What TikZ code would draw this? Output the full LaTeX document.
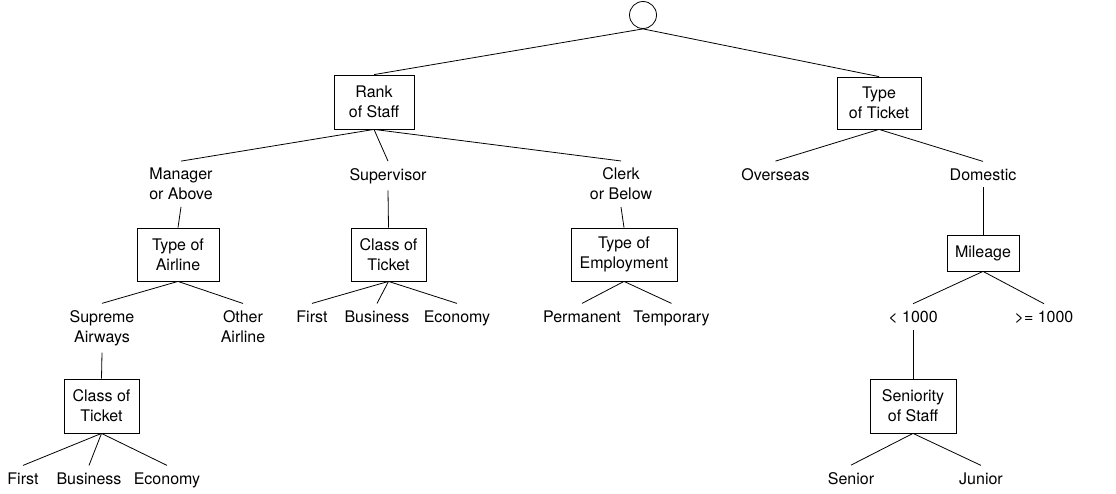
\documentclass[tikz,border=0pt]{standalone}
\usepackage{fontspec}
\setmainfont{TeX Gyre Heros}
\begin{document}
\begin{tikzpicture}[x=0.75pt,y=-0.75pt,
  every node/.style={font=\fontsize{12}{15}\selectfont},
  lbl/.style={inner xsep=0pt,inner ysep=5pt,align=center},
  box/.style={draw,line width=0.6pt,inner sep=0pt,align=center,minimum height=39.75pt},
  edge/.style={line width=0.6pt}]
\useasboundingbox (0,0) rectangle (1116,493);

% root
\node[draw,circle,line width=0.6pt,inner sep=0pt,minimum size=20.25pt] (root) at (643,15) {};

% first level decisions
\node[box,minimum width=60pt,minimum height=40.5pt] (rank) at (374,102) {Rank\\of Staff};
\node[box,minimum width=63pt,minimum height=39pt] (tot) at (879,103) {Type\\of Ticket};

% outcomes of rank of staff
\node[lbl] (mgr) at (181,184) {Manager\\or Above};
\node[lbl,anchor=base] (sup) at (388,180) {Supervisor};
\node[lbl] (clerk) at (621,184) {Clerk\\or Below};

% outcomes of type of ticket
\node[lbl,anchor=base] (ovs) at (775.5,180) {Overseas};
\node[lbl,anchor=base] (dom) at (983,180) {Domestic};

% second level decisions
\node[box,minimum width=61.5pt] (airline) at (178,254.5) {Type of\\Airline};
\node[box,minimum width=56.25pt] (cls1) at (388.5,254.5) {Class of\\Ticket};
\node[box,minimum width=79.5pt] (emp) at (624,254.5) {Type of\\Employment};
\node[box,minimum width=54pt,minimum height=27pt] (mil) at (983,253) {Mileage};

% outcomes of type of airline
\node[lbl] (supreme) at (102,328) {Supreme\\Airways};
\node[lbl] (other) at (243,326.5) {Other\\Airline};

% outcomes of class of ticket (supervisor)
\node[lbl,anchor=base] (f1) at (312,322) {First};
\node[lbl,anchor=base] (b1) at (377,322) {Business};
\node[lbl,anchor=base] (e1) at (457,322) {Economy};

% outcomes of type of employment
\node[lbl,anchor=base] (perm) at (582,322) {Permanent};
\node[lbl,anchor=base] (temp) at (671.5,322) {Temporary};

% outcomes of mileage
\node[lbl,anchor=base] (lt) at (913,322) {< 1000};
\node[lbl,anchor=base] (ge) at (1044,322) {>= 1000};

% third level decisions
\node[box,minimum width=56.25pt,minimum height=40.5pt] (cls2) at (101.5,406) {Class of\\Ticket};
\node[box,minimum width=64.5pt,minimum height=40.5pt] (sen) at (913,406) {Seniority\\of Staff};

% leaves
\node[lbl,anchor=base] (f2) at (23,484) {First};
\node[lbl,anchor=base] (b2) at (89,484) {Business};
\node[lbl,anchor=base] (e2) at (167,484) {Economy};
\node[lbl,anchor=base] (snr) at (851,484) {Senior};
\node[lbl,anchor=base] (jnr) at (981,484) {Junior};

% connectors
\draw[edge] (root.south) -- (rank.north);
\draw[edge] (root.south) -- (tot.north);
\draw[edge] (rank.south) -- (mgr.north);
\draw[edge] (rank.south) -- (sup.north);
\draw[edge] (rank.south) -- (clerk.north);
\draw[edge] (tot.south) -- (ovs.north);
\draw[edge] (tot.south) -- (dom.north);
\draw[edge] (mgr.south) -- (airline.north);
\draw[edge] (sup.south) -- (cls1.north);
\draw[edge] (clerk.south) -- (emp.north);
\draw[edge] (dom.south) -- (mil.north);
\draw[edge] (airline.south) -- (supreme.north);
\draw[edge] (airline.south) -- (other.north);
\draw[edge] (cls1.south) -- (f1.north);
\draw[edge] (cls1.south) -- (b1.north);
\draw[edge] (cls1.south) -- (e1.north);
\draw[edge] (emp.south) -- (perm.north);
\draw[edge] (emp.south) -- (temp.north);
\draw[edge] (mil.south) -- (lt.north);
\draw[edge] (mil.south) -- (ge.north);
\draw[edge] (supreme.south) -- (cls2.north);
\draw[edge] (lt.south) -- (sen.north);
\draw[edge] (cls2.south) -- (f2.north);
\draw[edge] (cls2.south) -- (b2.north);
\draw[edge] (cls2.south) -- (e2.north);
\draw[edge] (sen.south) -- (snr.north);
\draw[edge] (sen.south) -- (jnr.north);
\end{tikzpicture}
\end{document}
